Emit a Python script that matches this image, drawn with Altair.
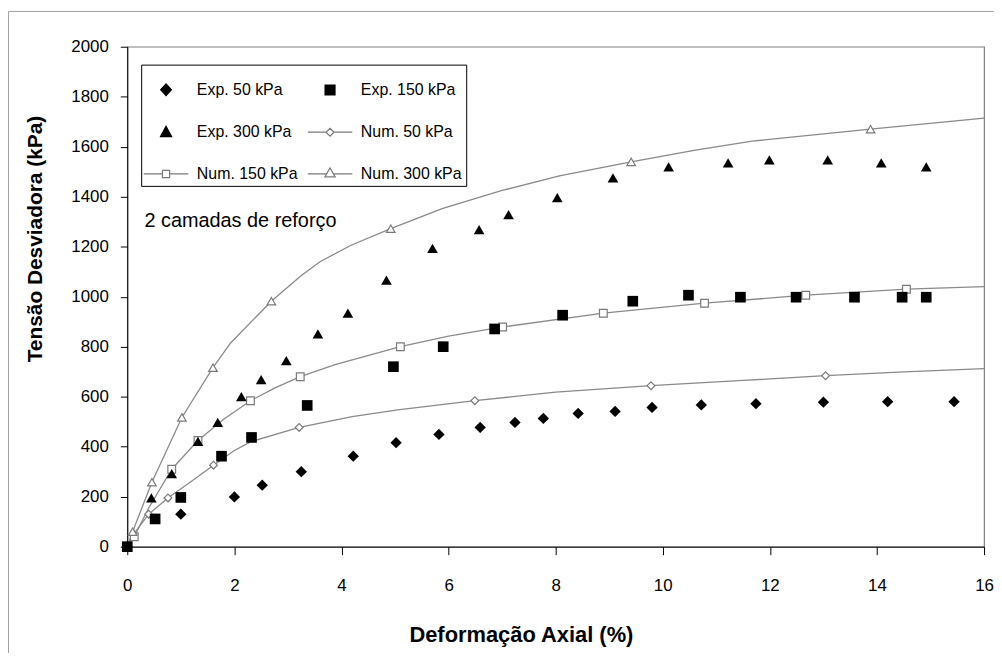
import altair as alt
import pandas as pd

# ---------------- data ----------------
# legend order chosen so that the 2-column legend reads row by row like the original
series_order = ["Exp. 50 kPa", "Exp. 300 kPa", "Num. 150 kPa",
                "Exp. 150 kPa", "Num. 50 kPa", "Num. 300 kPa"]
is_num = [False, False, True, False, True, True]

exp50_x = [0, 1.0, 2.0, 2.52, 3.25, 4.22, 5.02, 5.82, 6.59, 7.24, 7.77, 8.42, 9.11, 9.8, 10.72, 11.74, 13.0, 14.2, 15.44]
exp50_y = [0, 130, 199, 246, 300, 362, 416, 449, 477, 497, 513, 533, 541, 557, 567, 572, 578, 580, 580]

exp150_x = [0, 0.52, 1.0, 1.76, 2.32, 3.36, 4.97, 5.9, 6.86, 8.13, 9.44, 10.48, 11.45, 12.49, 13.58, 14.47, 14.92]
exp150_y = [0, 111, 197, 362, 437, 565, 720, 800, 871, 926, 982, 1006, 998, 998, 998, 998, 998]

exp300_x = [0, 0.45, 0.83, 1.32, 1.69, 2.13, 2.5, 2.97, 3.56, 4.12, 4.84, 5.7, 6.57, 7.12, 8.03, 9.07, 10.11, 11.22, 11.99, 13.08, 14.08, 14.92]
exp300_y = [0, 195, 292, 421, 497, 600, 668, 744, 851, 934, 1066, 1193, 1268, 1328, 1396, 1475, 1519, 1535, 1547, 1547, 1535, 1519]

# numerical curves (line) and the points carrying markers
num50_cx = [0, 0.12, 0.4, 0.76, 1.2, 1.61, 2.0, 2.32, 3.21, 4.2, 5.05, 6.49, 8.0, 9.78, 11.5, 13.04, 14.5, 16]
num50_cy = [0, 50, 130, 195, 262, 326, 385, 421, 477, 520, 547, 584, 618, 644, 665, 684, 699, 712]
num50_mx = [0.12, 0.4, 0.76, 1.61, 3.21, 6.49, 9.78, 13.04]
num50_my = [50, 130, 195, 326, 477, 584, 644, 684]

num150_cx = [0, 0.13, 0.4, 0.83, 1.32, 1.8, 2.3, 2.76, 3.23, 3.88, 5.1, 6.0, 7.01, 8.89, 10.78, 12.67, 14.55, 16]
num150_cy = [0, 40, 155, 310, 425, 510, 584, 635, 680, 728, 800, 842, 879, 934, 974, 1006, 1030, 1040]
num150_mx = [0.13, 0.83, 1.32, 2.3, 3.23, 5.1, 7.01, 8.89, 10.78, 12.67, 14.55]
num150_my = [40, 310, 425, 584, 680, 800, 879, 934, 974, 1006, 1030]

num300_cx = [0, 0.1, 0.46, 1.02, 1.6, 1.93, 2.69, 3.25, 3.6, 4.17, 4.92, 5.88, 7.0, 8.07, 9.41, 10.61, 11.67, 13.88, 16]
num300_cy = [0, 60, 258, 517, 716, 815, 982, 1085, 1140, 1205, 1272, 1352, 1425, 1483, 1539, 1586, 1622, 1670, 1714]
num300_mx = [0.1, 0.46, 1.02, 1.6, 2.69, 4.92, 9.41, 13.88]
num300_my = [60, 258, 517, 716, 982, 1272, 1539, 1670]

x_ticks = [0, 2, 4, 6, 8, 10, 12, 14, 16]
y_ticks = [0, 200, 400, 600, 800, 1000, 1200, 1400, 1600, 1800, 2000]

anno_text = ["2 camadas de reforço"]
anno_x = [0.32]
anno_y = [1280]


def rows(name, xs, ys):
    return [{"series": name, "x": a, "y": b} for a, b in zip(xs, ys)]


exp50 = pd.DataFrame(rows("Exp. 50 kPa", exp50_x, exp50_y))
exp150 = pd.DataFrame(rows("Exp. 150 kPa", exp150_x, exp150_y))
exp300 = pd.DataFrame(rows("Exp. 300 kPa", exp300_x, exp300_y))
curves = pd.DataFrame(rows("Num. 50 kPa", num50_cx, num50_cy)
                      + rows("Num. 150 kPa", num150_cx, num150_cy)
                      + rows("Num. 300 kPa", num300_cx, num300_cy))
m50 = pd.DataFrame(rows("Num. 50 kPa", num50_mx, num50_my))
m150 = pd.DataFrame(rows("Num. 150 kPa", num150_mx, num150_my))
m300 = pd.DataFrame(rows("Num. 300 kPa", num300_mx, num300_my))
anno = pd.DataFrame({"t": anno_text, "x": anno_x, "y": anno_y})

FONT = "Liberation Sans"
GRAY = "#8a8a8a"
MGRAY = "#7a7a7a"

x_enc = alt.X("x:Q", scale=alt.Scale(domain=[0, 16], nice=False, zero=False),
              axis=alt.Axis(values=x_ticks, title="Deformação Axial (%)", grid=False,
                            domainColor="black", tickColor="black", tickSize=8,
                            labelPadding=23, labelFontSize=17, labelFont=FONT,
                            labelColor="black", labelFlush=False, format="d",
                            titleFont=FONT, titleFontSize=22, titleFontWeight="bold",
                            titleColor="black", titleX=396, titleY=95,
                            titleBaseline="alphabetic", titleAlign="center"))
y_enc = alt.Y("y:Q", scale=alt.Scale(domain=[0, 2000], nice=False),
              axis=alt.Axis(values=y_ticks, title="Tensão Desviadora (kPa)", grid=False,
                            domainColor="black", tickColor="black", tickSize=7,
                            labelPadding=12, labelFontSize=17, labelFont=FONT,
                            labelColor="black", format="d",
                            titleFont=FONT, titleFontSize=21, titleFontWeight="bold",
                            titleColor="black", titleX=-86, titleY=193, titleAngle=270,
                            titleBaseline="alphabetic", titleAlign="center"))

# outer frame of the figure (decoration)
frame = alt.Chart(pd.DataFrame({"k": [0]})).mark_rect(
    fill="transparent", stroke="#a0a0a0", strokeWidth=1
).encode(x=alt.value(-119.5), x2=alt.value(1000), y=alt.value(-35.5), y2=alt.value(800))

lines = alt.Chart(curves).mark_line(color=GRAY, strokeWidth=1.3).encode(
    x=x_enc, y=y_enc, detail="series:N")


def open_pts(df, shape, size):
    return alt.Chart(df).mark_point(shape=shape, filled=True, fill="white", stroke=MGRAY,
                                    strokeWidth=1.2, size=size, opacity=1).encode(x=x_enc, y=y_enc)


def solid_pts(df, shape, size):
    return alt.Chart(df).mark_point(shape=shape, filled=True, color="black",
                                    size=size, opacity=1).encode(x=x_enc, y=y_enc)


# legend symbols (paths within unit square, line + marker for numerical series)
sym_path = {
    "Exp. 50 kPa": "M0,-0.3L0.27,0L0,0.3L-0.27,0Z",
    "Exp. 150 kPa": "M-0.25,-0.25H0.25V0.25H-0.25Z",
    "Exp. 300 kPa": "M0,-0.3L0.28,0.22H-0.28Z",
    "Num. 50 kPa": "M-1.12,0H-0.2M0.2,0H1.12M0,-0.2L0.2,0L0,0.2L-0.2,0Z",
    "Num. 150 kPa": "M-1.12,0H-0.18M0.18,0H1.12M-0.18,-0.18H0.18V0.18H-0.18Z",
    "Num. 300 kPa": "M-1.12,0H-0.17M0.17,0H1.12M0,-0.3L0.26,0.15H-0.26Z",
}
paths = [sym_path[s] for s in series_order]
fills = ["white" if n else "black" for n in is_num]
strokes = [MGRAY if n else "black" for n in is_num]

leg = alt.Legend(title=None, orient="none", legendX=14, legendY=18, columns=2,
                 symbolSize=1600, symbolStrokeWidth=1.2, labelOffset=10,
                 rowPadding=13, columnPadding=7, padding=4,
                 strokeColor="black", fillColor="white",
                 labelFont=FONT, labelFontSize=16, labelColor="black")
legend_layer = alt.Chart(exp50).transform_filter("false").mark_point(
    opacity=1, filled=True).encode(
    x=x_enc, y=y_enc,
    shape=alt.Shape("series:N", scale=alt.Scale(domain=series_order, range=paths), legend=leg),
    fill=alt.Fill("series:N", scale=alt.Scale(domain=series_order, range=fills), legend=leg),
    stroke=alt.Stroke("series:N", scale=alt.Scale(domain=series_order, range=strokes), legend=leg),
)

text = alt.Chart(anno).mark_text(align="left", baseline="alphabetic", font=FONT,
                                 fontSize=20, color="black").encode(
    x=x_enc, y=y_enc, text="t:N")

chart = alt.layer(
    frame, lines,
    open_pts(m50, "diamond", 60), open_pts(m150, "square", 60), open_pts(m300, "triangle-up", 75),
    solid_pts(exp50, "diamond", 130), solid_pts(exp150, "square", 115), solid_pts(exp300, "triangle-up", 115),
    legend_layer, text,
).properties(
    width=862, height=503,
    autosize=alt.AutoSizeParams(type="none"),
    padding={"left": 120, "top": 37, "right": 10, "bottom": 105},
    background="white",
).configure_view(stroke="#7f7f7f", strokeWidth=1.2)

chart.save("out.html", embed_options={"renderer": "svg", "actions": False})
